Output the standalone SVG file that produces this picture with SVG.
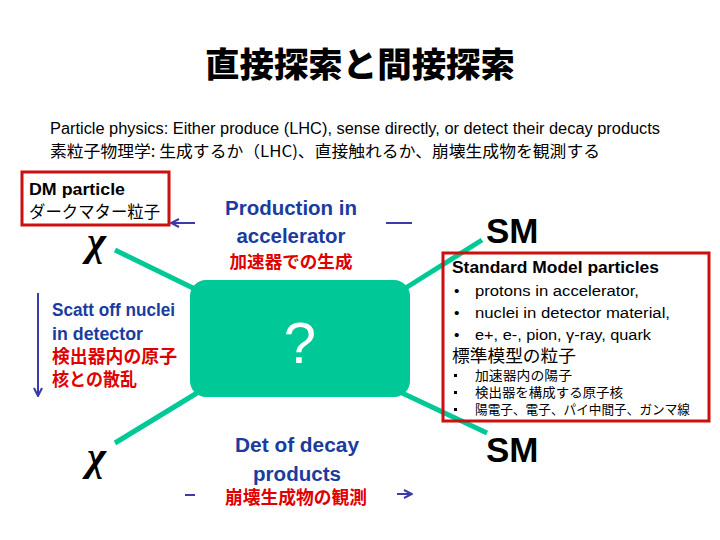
<svg xmlns="http://www.w3.org/2000/svg" width="720" height="540" viewBox="0 0 720 540">
<defs>
<style>
.en{font-family:"Liberation Sans","Open Sans",sans-serif}
.jp{font-family:"Noto Sans CJK JP","Liberation Sans",sans-serif}
.blue{fill:#1a3c9e;font-weight:bold;font-size:20px}
.red{fill:#e00000;font-weight:bold}
.teal{stroke:#00c896;stroke-width:5;fill:none}
.arr{stroke:#3a3aaa;stroke-width:2;fill:none}
.rbox{fill:none;stroke:#cc0f0f;stroke-width:3}
.chi{font-family:"Liberation Serif","DejaVu Serif",serif;font-style:italic;font-weight:bold;font-size:41px;fill:#000}
.sm{font-family:"Liberation Sans",Arial,sans-serif;font-weight:bold;font-size:35px;fill:#000}
</style>
<marker id="ah" viewBox="0 0 10 10" refX="9" refY="5" markerWidth="5" markerHeight="5" orient="auto-start-reverse">
<path d="M1,1 L9,5 L1,9" fill="none" stroke="#3a3aaa" stroke-width="2"/>
</marker>
</defs>
<rect width="720" height="540" fill="#fff"/>

<g id="title">
<text x="360" y="77" text-anchor="middle" class="jp" font-size="34" font-weight="900" textLength="310" lengthAdjust="spacingAndGlyphs">直接探索と間接探索</text>
</g>
<g id="subtitle">
<text x="50" y="134" class="en" font-size="16" textLength="610" lengthAdjust="spacingAndGlyphs">Particle physics: Either produce (LHC), sense directly, or detect their decay products</text>
<text x="50" y="157" class="jp" font-size="16" textLength="550" lengthAdjust="spacingAndGlyphs">素粒子物理学: 生成するか（LHC)、直接触れるか、崩壊生成物を観測する</text>
</g>

<g id="connectors">
<line class="teal" x1="115" y1="250" x2="195" y2="289"/>
<line class="teal" x1="404" y1="289" x2="482" y2="240"/>
<line class="teal" x1="197" y1="393" x2="115" y2="443"/>
<line class="teal" x1="400" y1="392" x2="487" y2="433"/>
<line class="arr" x1="195" y1="223" x2="171" y2="223" marker-end="url(#ah)"/>
<line class="arr" x1="386" y1="223" x2="412" y2="223"/>
<line class="arr" x1="38" y1="293" x2="38" y2="396" marker-end="url(#ah)"/>
<line class="arr" x1="185" y1="495" x2="195" y2="495"/>
<line class="arr" x1="397" y1="494" x2="412" y2="494" marker-end="url(#ah)"/>
</g>

<g id="dm-label">
<rect class="rbox" x="22" y="172" width="147" height="53"/>
<text x="29" y="195" class="en" font-size="17" font-weight="bold" textLength="96" lengthAdjust="spacingAndGlyphs">DM particle</text>
<text x="29" y="218" class="jp" font-size="16.5" textLength="131" lengthAdjust="spacingAndGlyphs">ダークマター粒子</text>
</g>
<g id="chi-top"><text x="87" y="255" class="chi">χ</text></g>
<g id="chi-bottom"><text x="87" y="470" class="chi">χ</text></g>
<g id="sm-top"><text x="486" y="243" class="sm">SM</text></g>
<g id="sm-bottom"><text x="486" y="462" class="sm">SM</text></g>

<g id="center-box">
<rect x="190" y="280" width="220" height="117" rx="16" fill="#00c896"/>
<text x="300" y="363" text-anchor="middle" font-family="Liberation Sans,Arial,sans-serif" font-size="58" fill="#fff">?</text>
</g>

<g id="production">
<text x="291" y="215" text-anchor="middle" class="en blue" textLength="132" lengthAdjust="spacingAndGlyphs">Production in</text>
<text x="291" y="243" text-anchor="middle" class="en blue" textLength="109" lengthAdjust="spacingAndGlyphs">accelerator</text>
<text x="291" y="268" text-anchor="middle" class="jp red" font-size="17.5" textLength="123" lengthAdjust="spacingAndGlyphs">加速器での生成</text>
</g>

<g id="scatter">
<text x="52" y="316" class="en blue" textLength="123" lengthAdjust="spacingAndGlyphs" style="font-size:18px">Scatt off nuclei</text>
<text x="52" y="340" class="en blue" textLength="91" lengthAdjust="spacingAndGlyphs" style="font-size:18px">in detector</text>
<text x="52" y="363" class="jp red" font-size="17.8" textLength="125" lengthAdjust="spacingAndGlyphs">検出器内の原子</text>
<text x="52" y="386" class="jp red" font-size="17.8" textLength="85" lengthAdjust="spacingAndGlyphs">核との散乱</text>
</g>

<g id="decay">
<text x="297" y="452" text-anchor="middle" class="en blue" textLength="124" lengthAdjust="spacingAndGlyphs">Det of decay</text>
<text x="297" y="481" text-anchor="middle" class="en blue" textLength="88" lengthAdjust="spacingAndGlyphs">products</text>
<text x="296" y="504" text-anchor="middle" class="jp red" font-size="17.7" textLength="142" lengthAdjust="spacingAndGlyphs">崩壊生成物の観測</text>
</g>

<g id="sm-box">
<rect class="rbox" x="443" y="253" width="266" height="168"/>
<text x="452" y="273" class="en" font-size="17" font-weight="bold" textLength="207" lengthAdjust="spacingAndGlyphs">Standard Model particles</text>
<g class="en" font-size="15.5">
<text x="454" y="296">•</text>
<text x="475" y="296" textLength="164" lengthAdjust="spacingAndGlyphs">protons in accelerator,</text>
<text x="454" y="318">•</text>
<text x="475" y="318" textLength="195" lengthAdjust="spacingAndGlyphs">nuclei in detector material,</text>
<text x="454" y="340">•</text>
<text x="475" y="340" textLength="176" lengthAdjust="spacingAndGlyphs">e+, e-, pion, γ-ray, quark</text>
</g>
<text x="452" y="362" class="jp" font-size="17.5" textLength="124" lengthAdjust="spacingAndGlyphs">標準模型の粒子</text>
<g class="jp" font-size="13">
<rect x="454" y="374" width="3" height="3" fill="#000"/>
<text x="475" y="380" textLength="97" lengthAdjust="spacingAndGlyphs">加速器内の陽子</text>
<rect x="454" y="391" width="3" height="3" fill="#000"/>
<text x="475" y="397" textLength="148" lengthAdjust="spacingAndGlyphs">検出器を構成する原子核</text>
<rect x="454" y="408" width="3" height="3" fill="#000"/>
<text x="475" y="414" textLength="215" lengthAdjust="spacingAndGlyphs">陽電子、電子、パイ中間子、ガンマ線</text>
</g>
</g>
</svg>
